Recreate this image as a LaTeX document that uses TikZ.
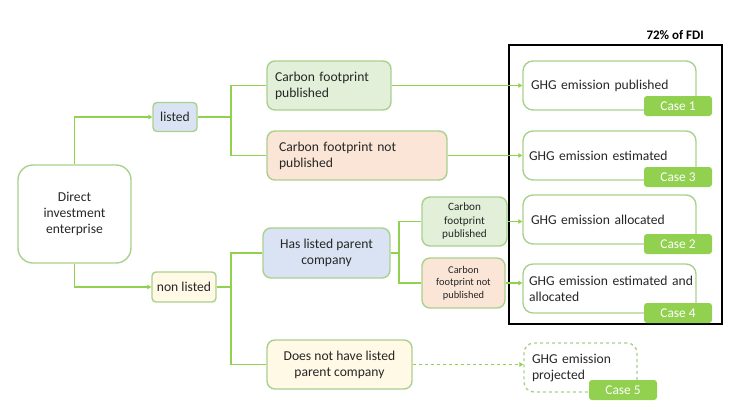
\documentclass[tikz,border=0pt]{standalone}
\usepackage{fontspec}
\setmainfont{Carlito}
\usetikzlibrary{arrows.meta}
\definecolor{gline}{HTML}{92D050}
\definecolor{gborder}{HTML}{A9D18E}
\definecolor{fblue}{HTML}{DAE3F3}
\definecolor{fgreen}{HTML}{E2F0D9}
\definecolor{forange}{HTML}{FBE5D6}
\definecolor{fyellow}{HTML}{FFF9E6}
\definecolor{txt}{HTML}{262626}
\tikzset{
  box/.style={draw=gborder, line width=1.4pt, rounded corners=8pt, text=txt, inner sep=0pt, font=\fontsize{13.6}{16}\selectfont},
  lbox/.style={box, align=left, inner xsep=8pt},
  cbox/.style={box, align=center},
  casetag/.style={fill=gline, rounded corners=3pt, text=white, minimum width=68pt, minimum height=20pt, inner sep=0pt, font=\fontsize{13.4}{15}\selectfont},
  conn/.style={draw=gline, line width=1.3pt},
  arr/.style={conn, -{Triangle[length=4pt,width=4.5pt]}},
}
\begin{document}
\begin{tikzpicture}[x=1pt,y=-1pt]
\useasboundingbox (0,0) rectangle (730,410);
% left
\node[cbox, rounded corners=15pt, minimum width=113pt, minimum height=98pt] (die) at (74.5,214) {Direct\\investment\\enterprise};
\node[cbox, rounded corners=4pt, fill=fblue, minimum width=44pt, minimum height=29pt] (listed) at (175,117) {listed};
\node[cbox, rounded corners=4pt, fill=fyellow, minimum width=64pt, minimum height=30pt] (nonlisted) at (184,287) {non listed};
% listed branch
\node[lbox, fill=fgreen, minimum height=49pt, text width=108pt] (cfp) at (329,85.5) {Carbon footprint\\published};
\node[lbox, fill=forange, minimum height=49pt, inner xsep=12pt, text width=156pt] (cfnp) at (357,155.5) {Carbon footprint not\\published};
% non listed branch
\node[cbox, fill=fblue, minimum width=127pt, minimum height=50pt] (hlpc) at (326.5,253) {Has listed parent\\company};
\node[cbox, fill=fgreen, minimum width=85pt, minimum height=49pt, font=\fontsize{11.2}{13.5}\selectfont] (scfp) at (464.5,221.5) {Carbon\\footprint\\published};
\node[cbox, fill=forange, minimum width=83pt, minimum height=50pt, font=\fontsize{10.4}{12.5}\selectfont] (scfnp) at (463.5,283) {Carbon\\footprint not\\published};
\node[cbox, fill=fyellow, minimum width=145pt, minimum height=49pt] (dnh) at (339.5,364.5) {Does not have listed\\parent company};
% frame
\node[draw=black, line width=1.8pt, minimum width=213pt, minimum height=279pt, inner sep=0pt] (frame) at (615.5,184.5) {};
\node[anchor=east, font=\fontsize{13}{15}\selectfont\bfseries, text=black, inner sep=0pt] (pct) at (704,35) {72\% of FDI};
% outcomes
\node[lbox, rounded corners=10pt, minimum height=49pt, text width=157pt] (g1) at (609.5,85.5) {GHG emission published};
\node[casetag] (c1) at (678,106) {Case 1};
\node[lbox, rounded corners=10pt, minimum height=49pt, inner xsep=6pt, text width=161pt] (g3) at (609.5,155.5) {GHG emission estimated};
\node[casetag] (c3) at (678,177) {Case 3};
\node[lbox, rounded corners=10pt, minimum height=49pt, text width=157pt] (g2) at (609.5,219.5) {GHG emission allocated};
\node[casetag] (c2) at (678,244) {Case 2};
\node[lbox, rounded corners=10pt, minimum height=49pt, inner xsep=6pt, text width=161pt] (g4) at (609.5,288.5) {\mbox{GHG emission estimated and}\\allocated};
\node[casetag] (c4) at (678,313) {Case 4};
\node[lbox, dashed, rounded corners=10pt, minimum height=49pt, text width=97pt] (g5) at (580.5,367.5) {GHG emission\\projected};
\node[casetag] (c5) at (623,390) {Case 5};
% connectors
\draw[arr] (die.north) |- (listed.west);
\draw[arr] (die.south) |- (nonlisted.west);
\coordinate (j1) at (231,117);
\draw[conn] (listed.east) -- (j1);
\draw[conn] (cfp.west) -| (j1) |- (cfnp.west);
\coordinate (j2) at (231,287);
\draw[conn] (nonlisted.east) -- (j2);
\draw[conn] (hlpc.west) -| (j2) |- (dnh.west);
\coordinate (j3) at (399,253);
\draw[conn] (hlpc.east) -- (j3);
\draw[conn] (scfp.west) -| (j3) |- (scfnp.west);
\draw[arr] (cfp.east) -- (g1.west);
\draw[arr] (cfnp.east) -- (g3.west);
\draw[arr] (scfp.east) -- (g2.west |- scfp.east);
\draw[arr] (scfnp.east) -- (g4.west |- scfnp.east);
\draw[arr, dashed] (dnh.east) -- (g5.west |- dnh.east);
\end{tikzpicture}
\end{document}
